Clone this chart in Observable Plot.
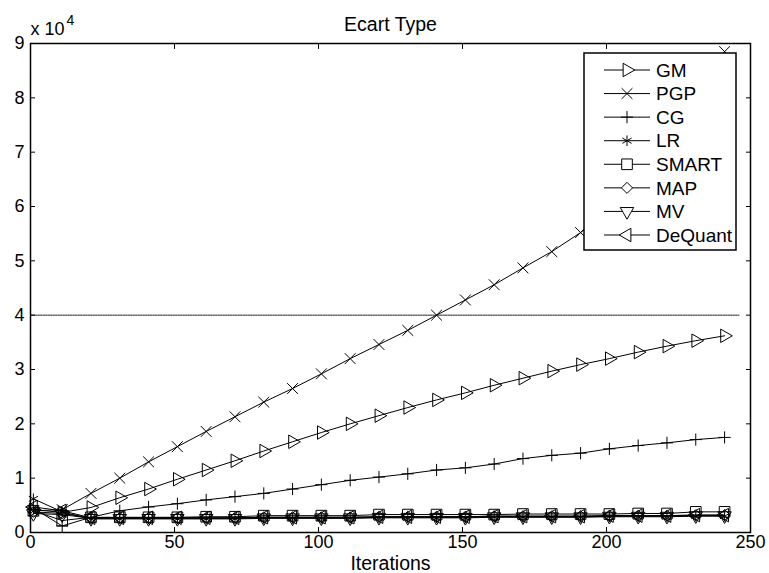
<!DOCTYPE html>
<html><head><meta charset="utf-8">
<script src="https://cdn.jsdelivr.net/npm/d3@7"></script>
<script src="https://cdn.jsdelivr.net/npm/@observablehq/plot@0.6"></script>
<style>html,body{margin:0;padding:0;background:#fff;} svg{display:block;}</style>
</head><body><div id="chart"></div>
<script>
// ---- data ----
const iterations = [1,11,21,31,41,51,61,71,81,91,101,111,121,131,141,151,161,171,181,191,201,211,221,231,241];
const GM      = [4200,3700,4600,6400,8000,9800,11500,13200,15000,16700,18400,20000,21500,23000,24400,25700,27100,28400,29700,30900,32000,33200,34300,35300,36200];
const PGP     = [4000,4200,7200,10000,13000,15800,18600,21300,24000,26500,29200,32000,34600,37200,40000,42800,45600,48700,51700,55200,59500,64500,70500,78000,88500];
const CG      = [4500,1200,2800,4000,4700,5300,6000,6600,7200,8000,8800,9600,10200,10800,11500,11900,12600,13600,14200,14600,15400,16000,16500,17100,17500];
const LR      = [6200,3800,2500,2500,2500,2500,2500,2500,2600,2600,2600,2600,2700,2700,2700,2700,2800,2800,2800,2800,2900,2900,2900,3000,3000];
const SMART   = [4000,2200,2800,2800,2800,2800,2900,2900,3100,3100,3100,3100,3300,3300,3300,3300,3300,3400,3400,3400,3400,3500,3500,3800,3800];
const MAP     = [3800,3500,2700,2700,2700,2700,2700,2700,2800,2800,2800,2800,2900,2900,2900,2900,3000,3000,3000,3000,3100,3100,3100,3200,3200];
const MV      = [3500,3300,2600,2600,2600,2600,2600,2600,2700,2700,2700,2700,2800,2800,2800,2800,2900,2900,2900,2900,3000,3000,3000,3100,3100];
const DeQuant = [4700,4000,2700,2700,2700,2700,2700,2700,2800,2800,2800,2800,2900,2900,2900,2900,3000,3000,3000,3000,3100,3100,3100,3200,3200];
const seriesNames = ["GM","PGP","CG","LR","SMART","MAP","MV","DeQuant"];
const seriesValues = [GM, PGP, CG, LR, SMART, MAP, MV, DeQuant];
const thresholdValue = 40000;
const thresholdRange = [0, 246];
const xTicks = [0,50,100,150,200,250];
const yTicks = [0,10000,20000,30000,40000,50000,60000,70000,80000,90000];
const titleText = "Ecart Type";
const xLabel = "Iterations";

// ---- styles ----
const FONT = "'Liberation Sans', Arial, Helvetica, sans-serif";
const markers = {
  GM: {symbol: "triangle", rotate: 90, r: 5},
  PGP: {symbol: "times", rotate: 0, r: 5},
  CG: {symbol: "plus", rotate: 0, r: 4},
  LR: {symbol: "asterisk", rotate: 0, r: 5},
  SMART: {symbol: "square", rotate: 0, r: 6},
  MAP: {symbol: "diamond2", rotate: 0, r: 5},
  MV: {symbol: "triangle", rotate: 180, r: 5},
  DeQuant: {symbol: "triangle", rotate: 270, r: 5}
};
const symbolMap = {triangle: d3.symbolTriangle, times: d3.symbolTimes, plus: d3.symbolPlus,
  asterisk: d3.symbolAsterisk, square: d3.symbolSquare, diamond2: d3.symbolDiamond2};

const rows = seriesNames.flatMap((name, i) =>
  iterations.map((it, j) => ({series: name, iteration: it, value: seriesValues[i][j]})));
const threshold = thresholdRange.map(x => ({iteration: x, value: thresholdValue}));

const marks = [];
for (const name of seriesNames) {
  const d = rows.filter(r => r.series === name);
  const m = markers[name];
  marks.push(Plot.line(d, {x: "iteration", y: "value", stroke: "black", strokeWidth: 1}));
  marks.push(Plot.dot(d, {x: "iteration", y: "value", symbol: m.symbol, r: m.r, rotate: m.rotate,
    stroke: "black", fill: "none", strokeWidth: 1}));
}
marks.push(Plot.line(threshold, {x: "iteration", y: "value", stroke: "black", strokeWidth: 0.9, strokeDasharray: "1.5,1"}));

const chart = Plot.plot({
  width: 769, height: 573,
  marginLeft: 30, marginRight: 19, marginTop: 43, marginBottom: 41,
  style: {fontFamily: FONT, fontSize: "18px", background: "white", color: "black", overflow: "visible"},
  x: {domain: [0, 250], label: null},
  y: {domain: [0, 90000], label: null},
  marks: [
    ...marks,
    Plot.frame({stroke: "black", strokeWidth: 1.5}),
    Plot.axisX(xTicks, {anchor: "bottom", tickSize: -5, tickPadding: 8, fontSize: 18, label: null}),
    Plot.axisX(xTicks, {anchor: "top", tickSize: -5, tickFormat: () => "", label: null}),
    Plot.axisY(yTicks, {anchor: "left", tickSize: -5, tickPadding: 11, fontSize: 18, tickFormat: d => String(d / 10000), label: null}),
    Plot.axisY(yTicks, {anchor: "right", tickSize: -5, tickFormat: () => "", label: null}),
    Plot.text([titleText], {frameAnchor: "top", lineAnchor: "middle", dy: -19, fontSize: 19.5}),
    Plot.text([xLabel], {frameAnchor: "bottom", lineAnchor: "middle", dy: 31, fontSize: 19.5}),
    Plot.text(["x 10"], {frameAnchor: "top-left", lineAnchor: "middle", textAnchor: "start", dy: -14, fontSize: 18}),
    Plot.text(["4"], {frameAnchor: "top-left", lineAnchor: "middle", textAnchor: "start", dx: 36, dy: -22.5, fontSize: 14})
  ]
});
document.getElementById("chart").appendChild(chart);

// ---- legend ----
const svg = d3.select(chart);
const lg = svg.append("g").attr("font-family", FONT).attr("font-size", 19).attr("text-anchor", "start");
lg.append("rect").attr("x", 584).attr("y", 53).attr("width", 152).attr("height", 197)
  .attr("fill", "white").attr("stroke", "black").attr("stroke-width", 1.5);
seriesNames.forEach((name, i) => {
  const y = 70 + i * 23.57;
  const m = markers[name];
  lg.append("line").attr("x1", 604).attr("x2", 650).attr("y1", y).attr("y2", y).attr("stroke", "black");
  lg.append("path").attr("d", d3.symbol(symbolMap[m.symbol], Math.PI * m.r * m.r)())
    .attr("transform", `translate(627,${y}) rotate(${m.rotate})`)
    .attr("fill", "white").attr("stroke", "black");
  lg.append("text").attr("x", 656).attr("y", y).attr("dy", "0.35em").attr("text-anchor", "start").text(name);
});
</script>
</body></html>
